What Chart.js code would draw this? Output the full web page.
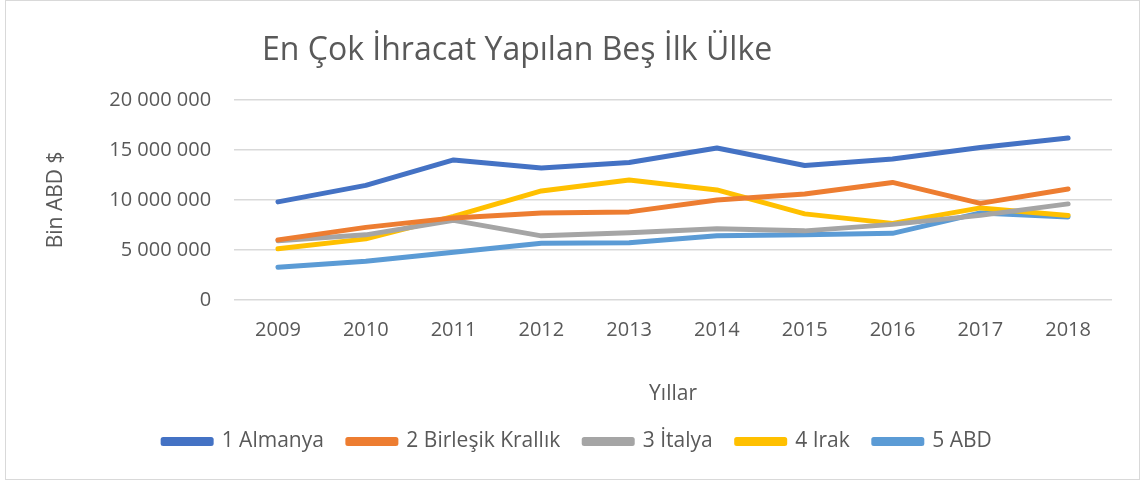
<!DOCTYPE html>
<html>
<head>
<meta charset="utf-8">
<script src="https://cdn.jsdelivr.net/npm/chart.js@4"></script>
<style>
  html, body { margin: 0; padding: 0; background: #fff; }
  #wrap { position: relative; width: 1142px; height: 482px; }
  #frame { position: absolute; left: 5px; top: 0; width: 1133px; height: 478px; border: 1px solid #d9d9d9; }
  canvas { position: absolute; left: 0; top: 0; }
</style>
</head>
<body>
<div id="wrap">
  <div id="frame"></div>
  <canvas id="chart" width="1142" height="482"></canvas>
</div>
<script>
// Yıllar (x ekseni)
const years = ['2009', '2010', '2011', '2012', '2013', '2014', '2015', '2016', '2017', '2018'];

// Ülkeler ve değerler (bin ABD $)
const almanya = [9800000, 11450000, 14000000, 13200000, 13750000, 15200000, 13450000, 14100000, 15250000, 16200000];
const birlesikKrallik = [6000000, 7250000, 8200000, 8700000, 8800000, 10000000, 10600000, 11750000, 9650000, 11100000];
const italya = [5900000, 6500000, 7950000, 6400000, 6700000, 7100000, 6900000, 7550000, 8450000, 9600000];
const irak = [5100000, 6100000, 8350000, 10900000, 12000000, 11000000, 8600000, 7650000, 9200000, 8450000];
const abd = [3250000, 3850000, 4750000, 5650000, 5700000, 6400000, 6500000, 6650000, 8700000, 8300000];

const yTicks = [0, 5000000, 10000000, 15000000, 20000000];

const textColor = '#595959';
const fontFamily = "'Open Sans', 'Liberation Sans', sans-serif";

// Başlık: Excel'deki gibi biraz sola kaymış
const titlePlugin = {
    id: 'customTitle',
    afterDraw(chart) {
        const ctx = chart.ctx;
        ctx.save();
        ctx.font = "32px " + fontFamily;
        ctx.fillStyle = textColor;
        ctx.textAlign = 'left';
        ctx.textBaseline = 'middle';
        ctx.fillText('En Çok İhracat Yapılan Beş İlk Ülke', 262, 51);
        ctx.restore();
    }
};

function dataset(label, data, color) {
    return {
        label: label,
        data: data,
        borderColor: color,
        backgroundColor: color,
        borderWidth: 5,
        borderCapStyle: 'round',
        borderJoinStyle: 'round',
        pointRadius: 0,
        tension: 0
    };
}

new Chart(document.getElementById('chart'), {
    type: 'line',
    data: {
        labels: years,
        datasets: [
            dataset('1 Almanya', almanya, '#4472c4'),
            dataset('2 Birleşik Krallık', birlesikKrallik, '#ed7d31'),
            dataset('3 İtalya', italya, '#a5a5a5'),
            dataset('4 Irak', irak, '#ffc000'),
            dataset('5 ABD', abd, '#5b9bd5')
        ]
    },
    options: {
        responsive: false,
        animation: false,
        layout: {
            padding: { top: 100, right: 30, bottom: 20, left: 43 }
        },
        plugins: {
            legend: {
                position: 'bottom',
                labels: {
                    color: textColor,
                    font: { size: 21, family: fontFamily },
                    boxWidth: 48,
                    boxHeight: 4,
                    padding: 24
                }
            },
            title: { display: false },
            tooltip: { enabled: false }
        },
        scales: {
            x: {
                offset: true,
                grid: { display: false },
                border: { display: false },
                ticks: {
                    color: textColor,
                    font: { size: 20, family: fontFamily },
                    padding: 10,
                    maxRotation: 0
                },
                title: {
                    display: true,
                    text: 'Yıllar',
                    color: textColor,
                    font: { size: 21, family: fontFamily },
                    padding: { top: 30, bottom: 0 }
                }
            },
            y: {
                min: 0,
                max: 20000000,
                afterBuildTicks(axis) {
                    axis.ticks = yTicks.map(v => ({ value: v }));
                },
                grid: { color: '#d9d9d9', lineWidth: 1.5, drawTicks: false },
                border: { display: false },
                ticks: {
                    color: textColor,
                    font: { size: 20, family: fontFamily },
                    padding: 23,
                    callback: v => v === 0 ? '0' : v.toLocaleString('en-US').replace(/,/g, ' ')
                },
                title: {
                    display: true,
                    text: 'Bin ABD $',
                    color: textColor,
                    font: { size: 21, family: fontFamily },
                    padding: { top: 0, bottom: 18 }
                }
            }
        }
    },
    plugins: [titlePlugin]
});
</script>
</body>
</html>
